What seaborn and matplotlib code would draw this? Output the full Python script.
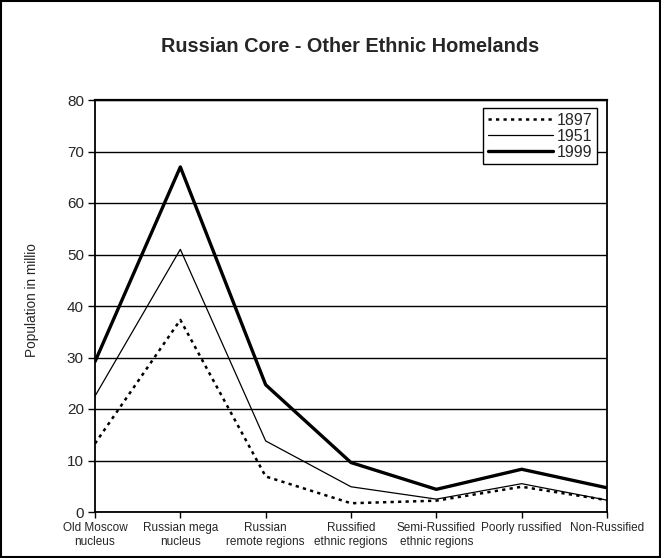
import matplotlib
matplotlib.use("Agg")
import matplotlib.pyplot as plt
import seaborn as sns
import numpy as np
import pandas as pd
from matplotlib.patches import Rectangle

categories = ["Old Moscow\nnucleus", "Russian mega\nnucleus", "Russian\nremote regions",
              "Russified\nethnic regions", "Semi-Russified\nethnic regions",
              "Poorly russified", "Non-Russified"]
y1897 = [13.3, 37.3, 6.9, 1.7, 2.2, 4.9, 2.3]
y1951 = [22.5, 51.0, 13.8, 4.9, 2.5, 5.5, 2.3]
y1999 = [29.2, 67.0, 24.7, 9.6, 4.4, 8.3, 4.7]
series_labels = ["1897", "1951", "1999"]
yticks = [0, 10, 20, 30, 40, 50, 60, 70, 80]

title = "Russian Core - Other Ethnic Homelands"
ylabel = "Population in millio"

sns.set_theme(style="white")
plt.rcParams['font.family'] = ['Liberation Sans', 'DejaVu Sans']

fig = plt.figure(figsize=(6.61, 5.58), dpi=100)
ax = fig.add_axes([95/661, 46/558, 512/661, 412/558])

x = np.arange(len(categories))
styles = [dict(lw=1.8, linestyle=(0, (1.3, 1.7))),
          dict(lw=0.9, linestyle="-"),
          dict(lw=2.4, linestyle="-")]
for vals, lab, st in zip([y1897, y1951, y1999], series_labels, styles):
    sns.lineplot(x=x, y=vals, ax=ax, color="black", label=lab, **st)

ax.set_xlim(0, len(categories) - 1)
ax.set_ylim(0, 80)
ax.set_yticks(yticks)
ax.set_xticks(x)
ax.set_xticklabels(categories, fontsize=8.5)
ax.tick_params(axis="y", labelsize=11, length=5, width=1, color="black", direction="out", left=True, pad=3)
ax.tick_params(axis="x", length=4, width=1, color="black", direction="out", bottom=True, pad=3)
ax.grid(axis="y", color="black", lw=1)
ax.set_axisbelow(True)
for s in ["top", "right", "left", "bottom"]:
    ax.spines[s].set_visible(True)
    ax.spines[s].set_color("black")
    ax.spines[s].set_linewidth(1.3)
ax.spines["top"].set_linewidth(1.6)

ax.set_ylabel("")
fig.text(32/661, 1 - 300/558, ylabel, rotation=90, ha="center", va="center", fontsize=9.8)
fig.text(350/661, 1 - 47/558, title, ha="center", va="center", fontsize=14.3, fontweight="bold")

leg = ax.legend(loc="upper right", bbox_to_anchor=(0.98, 0.98), borderaxespad=0,
                frameon=True, fancybox=False, fontsize=11.5, handlelength=4.1,
                labelspacing=0.05, borderpad=0.3, handletextpad=0.2)
leg.get_frame().set_edgecolor("black")
leg.get_frame().set_linewidth(1.0)
leg.get_frame().set_facecolor("white")
leg.get_frame().set_alpha(1)

fig.patches.append(Rectangle((0.002, 0.002), 0.996, 0.996, transform=fig.transFigure,
                             fill=False, edgecolor="black", lw=1.5))

fig.savefig("out.png", dpi=100, facecolor="white")
